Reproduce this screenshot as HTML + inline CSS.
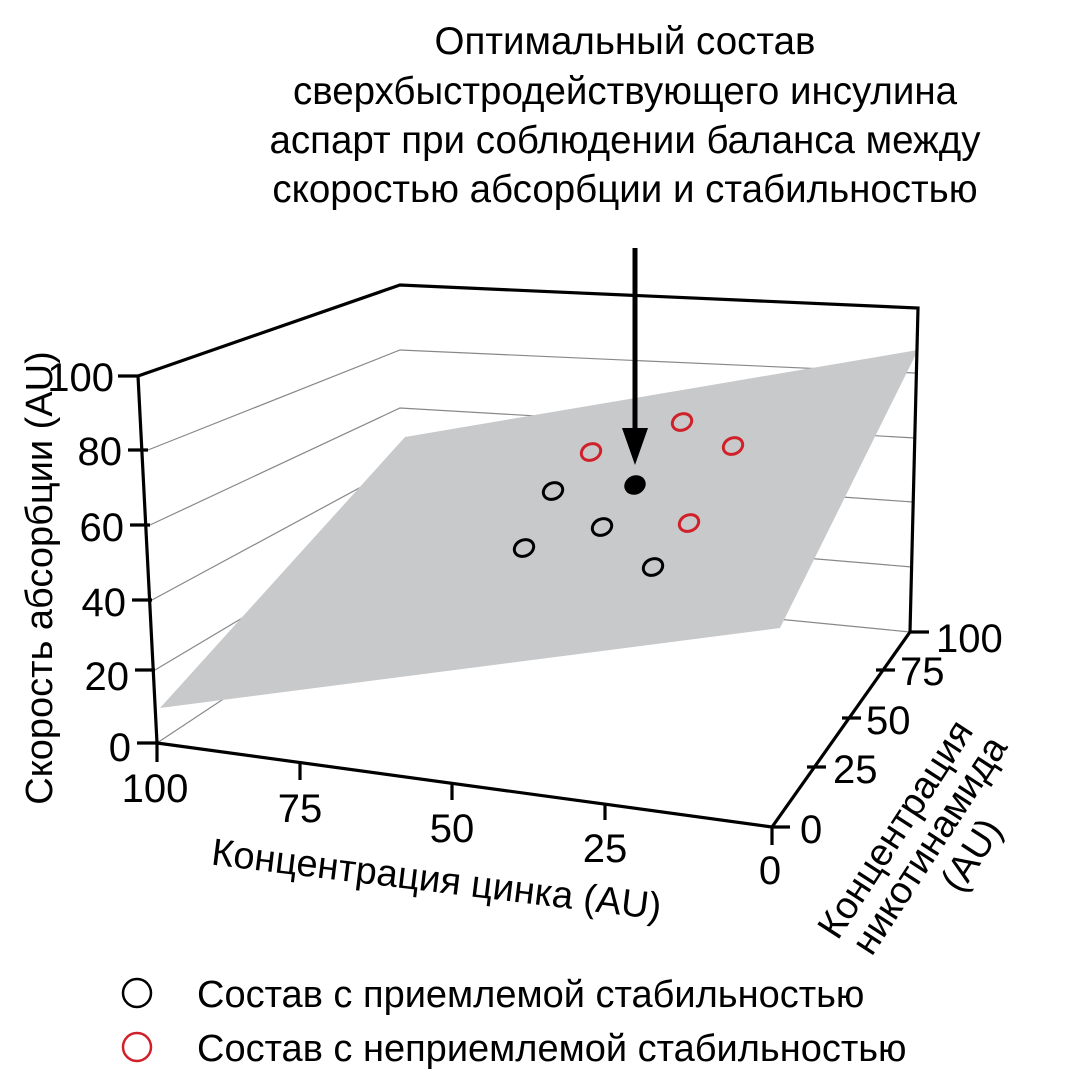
<!DOCTYPE html>
<html><head><meta charset="utf-8"><style>body{margin:0;background:#fff}svg{display:block}</style></head><body>
<svg width="1077" height="1088" viewBox="0 0 1077 1088" xmlns="http://www.w3.org/2000/svg" font-family="Liberation Sans, DejaVu Sans, sans-serif">
<g font-size="38.5" text-anchor="middle" fill="#000">
<text x="625" y="54">Оптимальный состав</text>
<text x="625" y="104">сверхбыстродействующего инсулина</text>
<text x="625" y="153">аспарт при соблюдении баланса между</text>
<text x="625" y="202">скоростью абсорбции и стабильностью</text>
</g>
<g stroke="#888" stroke-width="1.2" fill="none">
<polyline points="148,450 400,350 915,373"/>
<polyline points="150,525 400,408 915,438"/>
<polyline points="152,600 400,466 913,502"/>
<polyline points="155,670 400,524 912,567"/>
<polyline points="157,743 400,582 910,632"/>
</g>
<polygon points="160,708 405,437 918,350 780,628" fill="#c8c9cb"/>
<g stroke="#000" stroke-width="3.2" fill="none">
<polyline points="138,376 400,285 918,308 910,632"/>
<line x1="138" y1="376" x2="157" y2="743"/>
<polyline points="157,743 772,827 910,632"/>
<line x1="118" y1="376" x2="138" y2="376"/>
<line x1="128" y1="450" x2="148" y2="450"/>
<line x1="130" y1="525" x2="150" y2="525"/>
<line x1="132" y1="600" x2="152" y2="600"/>
<line x1="135" y1="670" x2="155" y2="670"/>
<line x1="137" y1="743" x2="157" y2="743"/>
<line x1="157" y1="743" x2="157" y2="762"/>
<line x1="300" y1="763" x2="300" y2="780"/>
<line x1="452" y1="783" x2="452" y2="800"/>
<line x1="605" y1="803" x2="605" y2="820"/>
<line x1="772" y1="827" x2="772" y2="845"/>
<line x1="772" y1="827" x2="790" y2="827"/>
<line x1="807" y1="767" x2="826" y2="767"/>
<line x1="842" y1="718" x2="861" y2="718"/>
<line x1="876" y1="670" x2="895" y2="670"/>
<line x1="910" y1="632" x2="929" y2="632"/>
</g>
<g font-size="40" fill="#000">
<g text-anchor="end">
<text x="114" y="391">100</text><text x="122" y="465">80</text><text x="124" y="541">60</text>
<text x="126" y="616">40</text><text x="129" y="690">20</text><text x="131" y="761">0</text>
</g>
<g text-anchor="middle">
<text x="155" y="802">100</text><text x="300" y="822">75</text><text x="452" y="842">50</text>
<text x="605" y="862">25</text><text x="770" y="884">0</text>
</g>
<text x="800" y="843">0</text><text x="833" y="783">25</text><text x="866" y="734">50</text>
<text x="900" y="685">75</text><text x="936" y="652">100</text>
<text font-size="38" transform="translate(52,578) rotate(-90)" text-anchor="middle">Скорость абсорбции (AU)</text>
<text font-size="38" transform="translate(435,892) rotate(7)" text-anchor="middle">Концентрация цинка (AU)</text>
<text font-size="38" transform="translate(906,836) rotate(-57)" text-anchor="middle">Концентрация</text>
<text font-size="38" transform="translate(940,852) rotate(-57)" text-anchor="middle">никотинамида</text>
<text font-size="38" transform="translate(982,862) rotate(-57)" text-anchor="middle">(AU)</text>
</g>
<g fill="none" stroke-width="3">
<g stroke="#000">
<ellipse cx="553" cy="491" rx="10" ry="8" transform="rotate(-25 553 491)"/>
<ellipse cx="602" cy="527" rx="10" ry="8" transform="rotate(-25 602 527)"/>
<ellipse cx="524" cy="548" rx="10" ry="8" transform="rotate(-25 524 548)"/>
<ellipse cx="653" cy="567" rx="10" ry="8" transform="rotate(-25 653 567)"/>
</g>
<g stroke="#d0202a">
<ellipse cx="591" cy="452" rx="10" ry="8" transform="rotate(-25 591 452)"/>
<ellipse cx="682" cy="422" rx="10" ry="8" transform="rotate(-25 682 422)"/>
<ellipse cx="733" cy="446" rx="10" ry="8" transform="rotate(-25 733 446)"/>
<ellipse cx="689" cy="523" rx="10" ry="8" transform="rotate(-25 689 523)"/>
</g>
</g>
<ellipse cx="635" cy="485" rx="11" ry="9.5" fill="#000" transform="rotate(-25 635 485)"/>
<line x1="635" y1="248" x2="635" y2="440" stroke="#000" stroke-width="5"/>
<polygon points="622,428 648,428 635,465" fill="#000"/>
<circle cx="137" cy="993" r="14" fill="none" stroke="#000" stroke-width="2.5"/>
<circle cx="137" cy="1047" r="14" fill="none" stroke="#d0202a" stroke-width="2.5"/>
<g font-size="38" fill="#000">
<text x="197" y="1007">Состав с приемлемой стабильностью</text>
<text x="197" y="1061">Состав с неприемлемой стабильностью</text>
</g>
</svg>
</body></html>
